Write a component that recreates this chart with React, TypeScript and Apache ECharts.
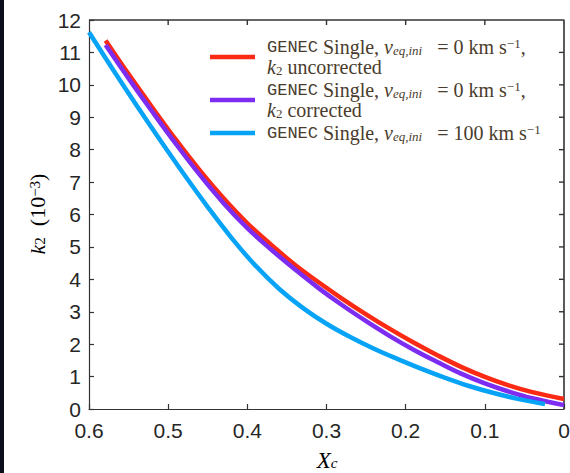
import React, { useEffect, useRef } from "react";
import * as echarts from "echarts";

// Core hydrogen fraction X_c (axis runs from 0.6 down to 0)
const xcNonRot = [0.579, 0.55, 0.52, 0.49, 0.46, 0.43, 0.40, 0.37, 0.34, 0.31, 0.28, 0.25, 0.22, 0.19, 0.16, 0.13, 0.10, 0.07, 0.04, 0.0];
// k2 (units of 1e-3), non-rotating model, uncorrected
const k2Uncorrected = [11.37, 10.33, 9.30, 8.30, 7.36, 6.50, 5.73, 5.07, 4.45, 3.91, 3.40, 2.92, 2.47, 2.05, 1.66, 1.30, 0.99, 0.73, 0.52, 0.31];
// k2 (units of 1e-3), non-rotating model, corrected
const k2Corrected = [11.23, 10.20, 9.17, 8.17, 7.22, 6.35, 5.58, 4.92, 4.31, 3.73, 3.20, 2.71, 2.25, 1.83, 1.45, 1.09, 0.79, 0.54, 0.33, 0.12];
// Rotating model, v_eq,ini = 100 km/s
const xcRot = [0.6, 0.57, 0.54, 0.51, 0.48, 0.45, 0.42, 0.39, 0.36, 0.33, 0.30, 0.27, 0.24, 0.21, 0.18, 0.15, 0.12, 0.09, 0.06, 0.024];
const k2Rot = [11.62, 10.48, 9.37, 8.29, 7.24, 6.23, 5.28, 4.43, 3.71, 3.12, 2.63, 2.22, 1.86, 1.54, 1.24, 0.96, 0.71, 0.50, 0.32, 0.15];

// Axis ranges and the inner tick positions on the top and right edges of the box
const X_MIN = 0;
const X_MAX = 0.6;
const Y_MIN = 0;
const Y_MAX = 12;
const topTicks = [0.5, 0.4, 0.3, 0.2, 0.1];
const rightTicks = [1, 2, 3, 4, 5, 6, 7, 8, 9, 10, 11];

const seriesNames = ["uncorrected", "corrected", "rot100"];
const seriesColors = ["#fa2a14", "#7d2cf2", "#06a3f6"];

const legendLabels: Record<string, string> = {
  uncorrected:
    "{tt|GENEC} {rm|Single,} {it|v}{sub|eq,ini}{rm|   = 0 km s}{sup|−1}{rm|,}\n{it|k}{subrm|2}{rm| uncorrected}",
  corrected:
    "{tt|GENEC} {rm|Single,} {it|v}{sub|eq,ini}{rm|   = 0 km s}{sup|−1}{rm|,}\n{it|k}{subrm|2}{rm| corrected}",
  rot100: "{tt|GENEC} {rm|Single,} {it|v}{sub|eq,ini}{rm|   = 100 km s}{sup|−1}",
};

const axisColor = "#333333";
const labelColor = "#262626";
const legendColor = "#4a3c2c";
const serif = "Liberation Serif";

const pairs = (xs: number[], ys: number[]) => xs.map((x, i) => [x, ys[i]]);

function richStyles(size: number, small: number, color: string) {
  return {
    tt: { fontFamily: "Liberation Mono", fontSize: size - 3, lineHeight: 20, color },
    rm: { fontFamily: serif, fontSize: size, lineHeight: 20, color },
    it: { fontFamily: serif, fontStyle: "italic", fontSize: size, lineHeight: 20, color },
    sub: { fontFamily: serif, fontStyle: "italic", fontSize: small, lineHeight: 10, verticalAlign: "bottom", color },
    subrm: { fontFamily: serif, fontSize: small, lineHeight: 10, verticalAlign: "bottom", color },
    sup: { fontFamily: serif, fontSize: small, lineHeight: 8, verticalAlign: "top", color },
  };
}

export default function App() {
  const ref = useRef<HTMLDivElement>(null);

  useEffect(() => {
    if (!ref.current) return;
    const chart = echarts.init(ref.current, null, { renderer: "svg" });

    const lineStyle = { color: axisColor, width: 1.2 };
    const tickLabel = {
      fontFamily: "Liberation Sans",
      fontSize: 21,
      color: labelColor,
    };

    // tick marks on the top (kind 0) and right (kind 1) edges, pointing inward
    const tickData = [
      ...topTicks.map((x) => [x, Y_MAX, 0]),
      ...rightTicks.map((y) => [X_MIN, y, 1]),
    ];

    const option: any = {
      animation: false,
      backgroundColor: "#ffffff",
      grid: {
        left: 89,
        top: 20,
        right: 6,
        bottom: 64,
        containLabel: false,
        outerBoundsMode: "none",
      },
      xAxis: {
        type: "value",
        min: X_MIN,
        max: X_MAX,
        interval: 0.1,
        inverse: true,
        position: "bottom",
        axisLine: { show: true, onZero: false, lineStyle },
        axisTick: { show: true, inside: true, length: 5, lineStyle },
        axisLabel: {
          ...tickLabel,
          margin: 11,
          formatter: (v: number) => (v === 0 ? "0" : v.toFixed(1)),
        },
        splitLine: { show: false },
      },
      yAxis: {
        type: "value",
        min: Y_MIN,
        max: Y_MAX,
        interval: 1,
        position: "left",
        axisLine: { show: true, onZero: false, lineStyle },
        axisTick: { show: true, inside: true, length: 5, lineStyle },
        axisLabel: { ...tickLabel, margin: 8 },
        splitLine: { show: false },
      },
      legend: {
        orient: "vertical",
        left: 210,
        top: 37,
        padding: 0,
        itemGap: 3,
        icon: "rect",
        itemWidth: 45,
        itemHeight: 4.5,
        selectedMode: false,
        data: seriesNames,
        formatter: (name: string) => legendLabels[name],
        textStyle: {
          fontFamily: serif,
          fontSize: 20,
          color: legendColor,
          padding: [0, 0, 0, 7],
          rich: richStyles(20, 13, legendColor),
        },
      },
      series: [
        ...[
          { name: seriesNames[0], data: pairs(xcNonRot, k2Uncorrected) },
          { name: seriesNames[1], data: pairs(xcNonRot, k2Corrected) },
          { name: seriesNames[2], data: pairs(xcRot, k2Rot) },
        ].map((s, i) => ({
          ...s,
          type: "line",
          showSymbol: false,
          symbol: "none",
          smooth: 0.4,
          color: seriesColors[i],
          lineStyle: { color: seriesColors[i], width: 4.5 },
          z: 2,
        })),
        // top and right edges of the box
        {
          type: "line",
          name: "box",
          data: [
            [X_MAX, Y_MAX],
            [X_MIN, Y_MAX],
            [X_MIN, Y_MIN],
          ],
          symbol: "none",
          showSymbol: false,
          clip: false,
          silent: true,
          color: axisColor,
          lineStyle: { color: axisColor, width: 1.6 },
          z: 1,
        },
        // inward ticks on the top and right edges
        {
          type: "custom",
          name: "boxTicks",
          data: tickData,
          clip: false,
          silent: true,
          z: 1,
          renderItem: (_params: any, api: any) => {
            const p = api.coord([api.value(0), api.value(1)]);
            const kind = api.value(2);
            const shape =
              kind === 0
                ? { x1: p[0], y1: p[1], x2: p[0], y2: p[1] + 5 }
                : { x1: p[0] - 5, y1: p[1], x2: p[0], y2: p[1] };
            return {
              type: "line",
              shape,
              style: { stroke: axisColor, lineWidth: 1.4 },
            };
          },
        },
      ],
      graphic: [
        {
          type: "rect",
          shape: { x: 0, y: 0, width: 4, height: 473 },
          style: { fill: "#0c0e1c" },
          silent: true,
        },
        {
          type: "text",
          x: 37,
          y: 214,
          rotation: Math.PI / 2,
          style: {
            text: "{it|k}{subrm|2}{rm|  (10}{sup|−3}{rm|)}",
            align: "center",
            verticalAlign: "middle",
            rich: richStyles(22, 15, labelColor),
          },
        },
        {
          type: "text",
          x: 327,
          y: 460,
          style: {
            text: "{it|X}{sub|c}",
            align: "center",
            verticalAlign: "middle",
            rich: richStyles(23, 15, labelColor),
          },
        },
      ],
    };

    chart.setOption(option);
    return () => chart.dispose();
  }, []);

  return (
    <div
      ref={ref}
      style={{ position: "absolute", left: 0, top: 0, width: 570, height: 473, background: "#fff" }}
    />
  );
}
